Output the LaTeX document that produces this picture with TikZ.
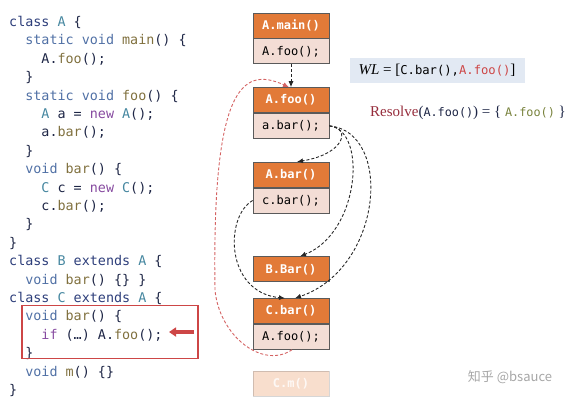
\documentclass[tikz,border=0pt]{standalone}
\usepackage{fontspec}
\setmainfont{Liberation Serif}
\setmonofont{DejaVu Sans Mono}
\newfontfamily\cjk{Noto Sans CJK SC}
\usetikzlibrary{arrows.meta,positioning}

\definecolor{hdorange}{RGB}{226,122,56}
\definecolor{bdpink}{RGB}{243,221,213}
\definecolor{boxline}{RGB}{90,90,90}
\definecolor{kwclass}{RGB}{45,62,122}
\definecolor{kwvoid}{RGB}{80,112,165}
\definecolor{fnname}{RGB}{128,112,62}
\definecolor{clname}{RGB}{70,135,160}
\definecolor{kwnew}{RGB}{135,75,160}
\definecolor{plain}{RGB}{30,38,70}
\definecolor{hotred}{RGB}{205,70,70}
\definecolor{wlfill}{RGB}{226,233,243}
\definecolor{resred}{RGB}{150,45,60}
\definecolor{resgreen}{RGB}{120,130,60}

\newcommand\kc[1]{\textcolor{kwclass}{#1}}
\newcommand\kv[1]{\textcolor{kwvoid}{#1}}
\newcommand\fn[1]{\textcolor{fnname}{#1}}
\newcommand\cl[1]{\textcolor{clname}{#1}}
\newcommand\kn[1]{\textcolor{kwnew}{#1}}
\newcommand\ind{\phantom{xx}}

\begin{document}
\begin{tikzpicture}[x=1pt, y=-1pt, node distance=23pt,
  head/.style={draw=boxline, fill=hdorange, text=white, line width=0.8pt,
    font=\ttfamily\bfseries\fontsize{12}{14}\selectfont,
    minimum width=76pt, minimum height=25pt, inner sep=0pt},
  body/.style={head, fill=bdpink, text=black, font=\ttfamily\fontsize{12}{14}\selectfont},
  code/.style={align=left, inner sep=0pt, text=plain,
    font=\ttfamily\fontsize{13.4}{18.4}\selectfont},
  dep/.style={dash pattern=on 3pt off 2pt, line width=0.9pt, black!85,
    -{Latex[length=6pt,width=5pt]}},
  back/.style={dep, hotred!85}]
\useasboundingbox (0,0) rectangle (580,400);

% source code
\node [code, anchor=north west] (src) at (9,16) {%
\kc{class} \cl{A} \{\\
\ind\kv{static void} \fn{main}() \{\\
\ind\ind A.\fn{foo}();\\
\ind\}\\
\ind\kv{static void} \fn{foo}() \{\\
\ind\ind\cl{A} a = \kn{new} \cl{A}();\\
\ind\ind a.\fn{bar}();\\
\ind\}\\
\ind\kv{void} \fn{bar}() \{\\
\ind\ind\cl{C} c = \kn{new} \cl{C}();\\
\ind\ind c.\fn{bar}();\\
\ind\}\\
\}\\
\kc{class} \cl{B} \kc{extends} \cl{A} \{\\
\ind\kv{void} \fn{bar}() \{\} \}\\
\kc{class} \cl{C} \kc{extends} \cl{A} \{\\
\ind\kv{void} \fn{bar}() \{\\
\ind\ind\kn{if} (…) A.\fn{foo}();\\
\ind\}\\
\ind\kv{void} \fn{m}() \{\}\\
\}};
\node [draw=hotred, line width=1.1pt, minimum width=176pt, minimum height=53pt, inner sep=0pt] (hot) at (110,332) {};
\coordinate (arr_s) at (194,332);
\coordinate (arr_e) at (169,332);
\draw [hotred, line width=3.5pt, -{Triangle[length=7pt,width=9pt]}] (arr_s) -- (arr_e);

% call graph
\node [head] (a_main) at (291,25.5) {A.main()};
\node [body] (a_main_b) [below = 0pt of a_main] {A.foo();};
\node [head] (a_foo) [below = of a_main_b] {A.foo()};
\node [body] (a_foo_b) [below = 0pt of a_foo] {a.bar();};
\node [head] (a_bar) [below = of a_foo_b] {A.bar()};
\node [body] (a_bar_b) [below = 0pt of a_bar] {c.bar();};
\node [head] (b_bar) [below = 43pt of a_bar_b] {B.Bar()};
\node [head] (c_bar) [below = 16pt of b_bar] {C.bar()};
\node [body] (c_bar_b) [below = 0pt of c_bar] {A.foo();};
\node [head, opacity=0.25, text opacity=0.8] (c_m) [below = 21pt of c_bar_b] {C.m()};

\path [dep] (a_main_b) edge (a_foo);
\draw [dep] (a_foo_b.east) .. controls +(22,2) and +(48,-8) .. ([xshift=6pt]a_bar.north);
\draw [dep] (a_foo_b.east) .. controls +(38,4) and +(60,-24) .. ([xshift=9pt]b_bar.north);
\draw [dep] (a_foo_b.east) .. controls +(64,6) and +(88,-30) .. ([xshift=4pt]c_bar.north);
\draw [dep] (a_bar_b.west) .. controls +(-28,16) and +(-60,-6) .. ([xshift=-6pt]c_bar.north);
\draw [back] ([xshift=1pt]c_bar_b.south) .. controls +(-30,20) and +(4,45) .. (215,290)
  .. controls +(-3,-200) and +(-48,-22) .. ([xshift=-2pt]a_foo.north);

% worklist and resolve
\node [fill=wlfill, minimum width=175pt, minimum height=25pt, inner sep=0pt,
  font=\fontsize{15}{17}\selectfont] (wl) at (437,70)
  {\textit{WL} = [\texttt{\fontsize{12.2}{14}\selectfont C.bar(),\textcolor{hotred}{A.foo()}}]};
\node [font=\fontsize{15}{17}\selectfont, text=plain] (res) at (468,113)
  {\textcolor{resred}{Resolve}(\texttt{\fontsize{11.8}{13}\selectfont A.foo()}) = \{ \texttt{\fontsize{11.8}{13}\selectfont\textcolor{resgreen}{A.foo()}} \}};

\node [text=black!35, font=\cjk\fontsize{13}{15}\selectfont] (wm) at (510,377) {知乎 @bsauce};
\end{tikzpicture}
\end{document}
